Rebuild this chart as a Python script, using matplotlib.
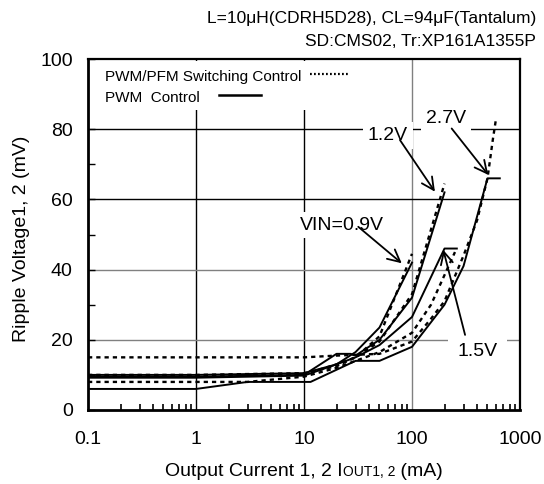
import matplotlib
matplotlib.use("Agg")
import matplotlib.pyplot as plt
from matplotlib.ticker import FixedLocator, FixedFormatter, NullFormatter
import numpy as np

plt.rcParams['font.family'] = ['Liberation Sans', 'DejaVu Sans']

# ---------------- data ----------------
x_09_pwm = [0.1, 1, 10, 20, 30, 50, 100]
y_09_pwm = [10, 10, 10.5, 13, 16.5, 23.5, 42]
x_09_pfm = [0.1, 1, 10, 20, 30, 50, 100]
y_09_pfm = [10, 10, 10.5, 12.5, 15, 21, 44.5]

x_12_pwm = [0.1, 1, 10, 20, 27, 30, 50, 100, 200]
y_12_pwm = [9.5, 9.5, 10, 16, 16, 15.5, 20, 32, 62]
x_12_pfm = [0.1, 1, 10, 20, 30, 50, 100, 200]
y_12_pfm = [9.7, 9.7, 10.2, 13, 15, 19.5, 33, 64.5]

x_15_pwm = [0.1, 1, 10, 20, 30, 50, 100, 200, 260]
y_15_pwm = [9.2, 9.2, 9.8, 13, 15, 18.5, 26.5, 46, 46]
x_15_pfm = [0.1, 1, 3, 10, 20, 30, 50, 100, 150, 250]
y_15_pfm = [8, 8, 8, 9.5, 12, 14, 16.5, 22, 30, 45]

x_27_pwm = [0.1, 1, 3, 11.5, 30, 50, 100, 200, 300, 500, 650]
y_27_pwm = [6, 6, 8, 8, 14, 14, 18, 30, 41, 66, 66]
x_27_pfm = [0.1, 10, 20, 50, 100, 150, 200, 300, 400, 500, 560, 600]
y_27_pfm = [15, 15, 15.5, 16, 19.5, 26, 31, 44, 54, 66, 77, 83]

x_ticks = [0.1, 1, 10, 100, 1000]
x_ticklabels = ["0.1", "1", "10", "100", "1000"]
y_ticks = [0, 20, 40, 60, 80, 100]
y_ticklabels = ["0", "20", "40", "60", "80", "100"]

# ---------------- figure ----------------
W, H = 544, 484
fig = plt.figure(figsize=(W / 100, H / 100), dpi=100)
ax = fig.add_axes([88/W, 1-410/H, 432/W, 351/H])
ax.set_xscale('log')
ax.set_xlim(0.1, 1000)
ax.set_ylim(0, 100)

# grid lines (mixed black / grey as in the reference)
for xv, c in [(1, 'black'), (10, 'black'), (100, '#808080')]:
    ax.axvline(xv, color=c, lw=1.0, zorder=1)
for yv, c in [(20, '#808080'), (40, '#808080'), (60, 'black'), (80, 'black')]:
    ax.axhline(yv, color=c, lw=1.0, zorder=1)

# legend background (hides grid)
ax.add_patch(plt.Rectangle((0.0, 0.855), 0.612, 0.14, transform=ax.transAxes,
                           facecolor='white', edgecolor='none', zorder=2))

solid_kw = dict(color='black', lw=1.4, zorder=4)
dot_kw = dict(color='black', lw=1.7, dashes=(1.8, 1.7), zorder=5)

ax.plot(x_09_pwm, y_09_pwm, **solid_kw)
ax.plot(x_12_pwm, y_12_pwm, **solid_kw)
ax.plot(x_15_pwm, y_15_pwm, **solid_kw)
ax.plot(x_27_pwm, y_27_pwm, **solid_kw)
ax.plot(x_09_pfm, y_09_pfm, **dot_kw)
ax.plot(x_12_pfm, y_12_pfm, **dot_kw)
ax.plot(x_15_pfm, y_15_pfm, **dot_kw)
ax.plot(x_27_pfm, y_27_pfm, **dot_kw)

# legend
ax.text(0.039, 0.949, "PWM/PFM Switching Control", transform=ax.transAxes,
        fontsize=11, va='center', ha='left', zorder=6)
ax.plot([0.514, 0.602], [0.958, 0.958], transform=ax.transAxes, color='black',
        lw=1.6, dashes=(0.8, 1.0), zorder=6)
ax.text(0.039, 0.889, "PWM  Control", transform=ax.transAxes,
        fontsize=11, va='center', ha='left', zorder=6)
ax.plot([0.303, 0.400], [0.897, 0.897], transform=ax.transAxes, color='black',
        lw=1.8, zorder=6)

# annotations
bbox = dict(boxstyle='square,pad=0.25', facecolor='white', edgecolor='none')
arrow = dict(arrowstyle='->', color='black', lw=1.3, mutation_scale=22,
             shrinkA=0, shrinkB=0)
ax.text(22.5, 52.7, "VIN=0.9V", fontsize=14, ha='center', va='center', bbox=bbox, zorder=3)
ax.annotate("", xy=(80.4, 41.8), xytext=(31.8, 52.2), arrowprops=arrow, zorder=7)
ax.text(60, 78.3, "1.2V", fontsize=14, ha='center', va='center', bbox=bbox, zorder=3)
ax.annotate("", xy=(163, 62.2), xytext=(77.4, 76.9), arrowprops=arrow, zorder=7)
ax.text(206, 83.1, "2.7V", fontsize=14, ha='center', va='center', bbox=bbox, zorder=3)
ax.annotate("", xy=(508, 67), xytext=(233, 80.2), arrowprops=arrow, zorder=7)
ax.text(404, 16.6, "1.5V", fontsize=14, ha='center', va='center',
        bbox=dict(boxstyle='square,pad=0.5', facecolor='white', edgecolor='none'), zorder=3)
ax.annotate("", xy=(195, 45.6), xytext=(310, 21.4), arrowprops=arrow, zorder=7)

# axes / ticks
ax.xaxis.set_major_locator(FixedLocator(x_ticks))
ax.xaxis.set_major_formatter(FixedFormatter(x_ticklabels))
ax.xaxis.set_minor_locator(FixedLocator(
    [m * 10.0**e for e in range(-1, 3) for m in range(2, 10)]))
ax.xaxis.set_minor_formatter(NullFormatter())
ax.yaxis.set_major_locator(FixedLocator(y_ticks))
ax.yaxis.set_major_formatter(FixedFormatter(y_ticklabels))
ax.yaxis.set_minor_locator(FixedLocator([10, 30, 50, 70, 90]))
ax.tick_params(which='both', direction='in', top=False, right=False, labelsize=14)
ax.tick_params(axis='x', which='major', length=0, pad=15)
ax.tick_params(axis='x', which='minor', length=4, width=1.2)
ax.tick_params(axis='y', which='major', length=5, width=1.0, pad=11)
ax.tick_params(axis='y', which='minor', length=5, width=1.0)

for s in ['left', 'bottom']:
    ax.spines[s].set_linewidth(2.0)
for s in ['top', 'right']:
    ax.spines[s].set_linewidth(1.6)
for s in ax.spines.values():
    s.set_zorder(8)

fig.text(22/W, 0.506, "Ripple Voltage1, 2 (mV)", rotation=90, fontsize=14,
         ha='center', va='center')

# x label composed of normal + small text on a common baseline
renderer = fig.canvas.get_renderer()
parts = [("Output Current 1, 2 I", 14), ("OUT1, 2", 10), (" (mA)", 14)]
texts = [fig.text(0, 0, s, fontsize=fs, ha='left', va='baseline') for s, fs in parts]
widths = [t.get_window_extent(renderer).width for t in texts]
xpos = 304 - sum(widths) / 2
base = 8
for t, w in zip(texts, widths):
    t.set_position((xpos / W, base / H))
    xpos += w

fig.text(536/W, 1-18/H, "L=10\u03bcH(CDRH5D28), CL=94\u03bcF(Tantalum)",
         fontsize=12.5, ha='right', va='center')
fig.text(536/W, 1-41/H, "SD:CMS02, Tr:XP161A1355P",
         fontsize=12.5, ha='right', va='center')

fig.savefig("out.png", dpi=100)
